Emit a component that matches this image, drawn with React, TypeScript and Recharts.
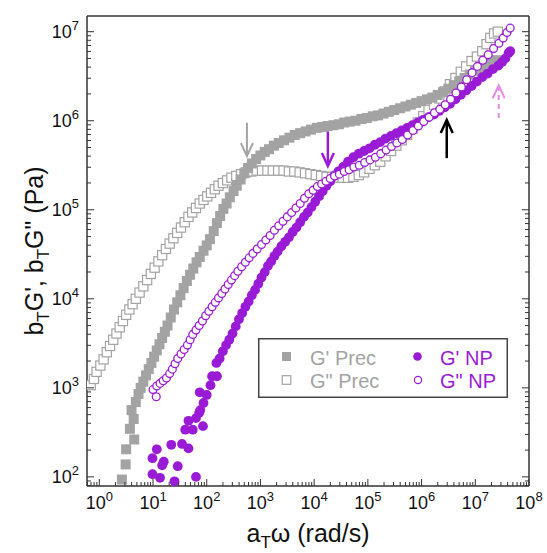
import { ScatterChart, Scatter, XAxis, YAxis, ReferenceLine, Legend } from 'recharts'

// every pair is [log10(aT·ω), log10(modulus)]
const gPrimePrec: [number, number][] = [
  [0.42, 1.97], [0.49, 2.14], [0.5, 2.31], [0.65, 2.42], [0.57, 2.54], [0.64, 2.65], [0.6, 2.75], [0.68, 2.84],
  [0.73, 2.93], [0.77, 3.0], [0.82, 3.07], [0.87, 3.14], [0.92, 3.21], [0.97, 3.28], [1.02, 3.35], [1.07, 3.42],
  [1.12, 3.49], [1.17, 3.56], [1.22, 3.63], [1.27, 3.7], [1.33, 3.79], [1.39, 3.88], [1.45, 3.96], [1.51, 4.04],
  [1.57, 4.12], [1.63, 4.2], [1.69, 4.27], [1.75, 4.34], [1.81, 4.41], [1.87, 4.47], [1.94, 4.54], [2.0, 4.6],
  [2.06, 4.67], [2.13, 4.76], [2.19, 4.85], [2.25, 4.93], [2.31, 5.01], [2.37, 5.07], [2.43, 5.14], [2.5, 5.21],
  [2.56, 5.27], [2.63, 5.34], [2.7, 5.41], [2.77, 5.47], [2.84, 5.52], [2.92, 5.57], [3.0, 5.61], [3.08, 5.65],
  [3.16, 5.68], [3.25, 5.72], [3.34, 5.75], [3.44, 5.78], [3.54, 5.81], [3.64, 5.84], [3.74, 5.86], [3.84, 5.88],
  [3.94, 5.9], [4.05, 5.92], [4.15, 5.93], [4.25, 5.94], [4.36, 5.95], [4.46, 5.96], [4.56, 5.98], [4.66, 5.99],
  [4.77, 6.0], [4.88, 6.02], [4.98, 6.03], [5.09, 6.05], [5.19, 6.06], [5.29, 6.08], [5.39, 6.1], [5.49, 6.12],
  [5.6, 6.14], [5.7, 6.16], [5.8, 6.18], [5.9, 6.2], [6.0, 6.22], [6.1, 6.24], [6.2, 6.26], [6.3, 6.29],
  [6.4, 6.32], [6.5, 6.36], [6.6, 6.4], [6.7, 6.44], [6.8, 6.48], [6.9, 6.52], [7.0, 6.56], [7.1, 6.59],
  [7.2, 6.62], [7.3, 6.65], [7.4, 6.68],
]

const gDoublePrec: [number, number][] = [
  [-0.16, 3.03], [-0.1, 3.1], [-0.05, 3.18], [0.02, 3.25], [0.08, 3.32], [0.14, 3.4], [0.2, 3.47], [0.26, 3.54],
  [0.32, 3.61], [0.38, 3.68], [0.44, 3.75], [0.5, 3.82], [0.56, 3.88], [0.62, 3.94], [0.68, 4.0], [0.75, 4.07],
  [0.82, 4.14], [0.89, 4.21], [0.96, 4.28], [1.03, 4.35], [1.1, 4.42], [1.17, 4.49], [1.24, 4.56], [1.31, 4.62],
  [1.38, 4.68], [1.45, 4.74], [1.52, 4.8], [1.59, 4.86], [1.66, 4.92], [1.73, 4.97], [1.8, 5.02], [1.87, 5.07],
  [1.94, 5.11], [2.01, 5.15], [2.08, 5.19], [2.15, 5.23], [2.22, 5.27], [2.3, 5.3], [2.38, 5.33], [2.46, 5.36],
  [2.55, 5.38], [2.64, 5.4], [2.73, 5.42], [2.83, 5.43], [2.93, 5.44], [3.03, 5.44], [3.13, 5.44], [3.23, 5.44],
  [3.33, 5.44], [3.43, 5.44], [3.53, 5.43], [3.63, 5.43], [3.73, 5.42], [3.83, 5.41], [3.93, 5.4], [4.03, 5.39],
  [4.13, 5.38], [4.23, 5.37], [4.33, 5.37], [4.43, 5.36], [4.53, 5.36], [4.63, 5.36], [4.73, 5.37], [4.83, 5.39],
  [4.93, 5.42], [5.03, 5.46], [5.13, 5.5], [5.23, 5.54], [5.33, 5.6], [5.43, 5.66], [5.53, 5.72], [5.63, 5.78],
  [5.73, 5.84], [5.83, 5.91], [5.93, 5.98], [6.03, 6.05], [6.13, 6.12], [6.23, 6.18], [6.33, 6.25], [6.43, 6.33],
  [6.53, 6.41], [6.63, 6.48], [6.73, 6.55], [6.83, 6.61], [6.93, 6.67], [7.03, 6.72], [7.13, 6.78], [7.21, 6.86],
  [7.28, 6.93], [7.35, 6.98], [7.42, 7.0],
]

const gPrimeNP: [number, number][] = [
  [0.99, 2.03], [1.13, 1.99], [1.4, 1.95], [1.8, 2.0], [0.99, 2.21], [1.07, 2.31], [1.17, 2.13], [1.2, 2.17],
  [1.34, 2.36], [1.46, 2.12], [1.54, 2.37], [1.66, 2.32], [1.6, 2.53], [1.74, 2.53], [1.66, 2.63], [1.8, 2.66],
  [1.93, 2.57], [1.86, 2.72], [1.88, 2.75], [1.94, 2.83], [1.87, 2.95], [2.0, 2.92], [2.07, 3.03], [2.1, 3.13],
  [2.19, 3.13], [2.18, 3.28], [2.24, 3.33], [2.3, 3.41], [2.36, 3.48], [2.42, 3.54], [2.48, 3.61], [2.54, 3.69],
  [2.6, 3.77], [2.66, 3.84], [2.72, 3.91], [2.78, 3.97], [2.84, 4.04], [2.9, 4.1], [2.96, 4.17], [3.02, 4.24],
  [3.08, 4.3], [3.14, 4.37], [3.2, 4.42], [3.26, 4.48], [3.32, 4.53], [3.39, 4.59], [3.46, 4.64], [3.53, 4.69],
  [3.6, 4.75], [3.67, 4.8], [3.74, 4.86], [3.81, 4.92], [3.88, 4.97], [3.95, 5.03], [4.02, 5.09], [4.09, 5.15],
  [4.16, 5.21], [4.23, 5.27], [4.3, 5.32], [4.37, 5.38], [4.45, 5.43], [4.54, 5.48], [4.63, 5.54], [4.73, 5.59],
  [4.83, 5.63], [4.93, 5.66], [5.03, 5.69], [5.13, 5.73], [5.23, 5.76], [5.33, 5.8], [5.43, 5.83], [5.53, 5.86],
  [5.63, 5.89], [5.73, 5.92], [5.83, 5.95], [5.93, 5.98], [6.03, 6.01], [6.13, 6.04], [6.23, 6.07], [6.33, 6.11],
  [6.43, 6.15], [6.53, 6.19], [6.63, 6.24], [6.73, 6.29], [6.83, 6.34], [6.93, 6.39], [7.03, 6.44], [7.13, 6.49],
  [7.23, 6.53], [7.33, 6.58], [7.43, 6.62], [7.5, 6.66], [7.56, 6.7], [7.62, 6.76], [7.65, 6.78],
]

const gDoubleNP: [number, number][] = [
  [1.0, 2.98], [1.06, 2.9], [1.07, 3.02], [1.13, 3.05], [1.19, 3.08], [1.25, 3.11], [1.31, 3.16], [1.36, 3.21],
  [1.41, 3.27], [1.46, 3.33], [1.52, 3.38], [1.58, 3.43], [1.64, 3.48], [1.69, 3.54], [1.74, 3.6], [1.8, 3.65],
  [1.86, 3.7], [1.92, 3.75], [1.98, 3.81], [2.04, 3.86], [2.1, 3.91], [2.16, 3.96], [2.22, 4.01], [2.28, 4.06],
  [2.34, 4.11], [2.4, 4.16], [2.46, 4.21], [2.52, 4.26], [2.58, 4.31], [2.65, 4.36], [2.72, 4.41], [2.79, 4.46],
  [2.86, 4.51], [2.94, 4.56], [3.02, 4.61], [3.1, 4.66], [3.18, 4.71], [3.26, 4.77], [3.34, 4.82], [3.42, 4.87],
  [3.5, 4.92], [3.58, 4.97], [3.66, 5.02], [3.74, 5.07], [3.82, 5.13], [3.9, 5.18], [3.98, 5.22], [4.06, 5.26],
  [4.14, 5.29], [4.22, 5.32], [4.3, 5.35], [4.38, 5.38], [4.47, 5.4], [4.56, 5.43], [4.65, 5.45], [4.74, 5.48],
  [4.84, 5.5], [4.94, 5.53], [5.04, 5.56], [5.14, 5.59], [5.24, 5.63], [5.34, 5.67], [5.44, 5.71], [5.54, 5.75],
  [5.64, 5.79], [5.74, 5.84], [5.84, 5.89], [5.94, 5.94], [6.04, 5.99], [6.14, 6.04], [6.24, 6.09], [6.34, 6.13],
  [6.44, 6.18], [6.54, 6.24], [6.64, 6.31], [6.74, 6.38], [6.84, 6.46], [6.94, 6.54], [7.04, 6.61], [7.14, 6.68],
  [7.24, 6.74], [7.34, 6.81], [7.44, 6.87], [7.52, 6.93], [7.59, 6.99], [7.65, 7.04],
]

// annotation arrows: x position, start and tip of the shaft (data units)
const arrowMarks = [
  { x: 560, from: 9.5e5, to: 4.0e5 },
  { x: 1.8e4, from: 7.6e5, to: 3.1e5 },
  { x: 2.94e6, from: 3.8e5, to: 1.02e6 },
  { x: 2.73e7, from: 1.07e6, to: 2.5e6 },
]

const xDecades = [1, 10, 100, 1e3, 1e4, 1e5, 1e6, 1e7, 1e8]
const yDecades = [1e2, 1e3, 1e4, 1e5, 1e6, 1e7]
const xDomain: [number, number] = [0.59, 1e8]
const yDomain: [number, number] = [79, 1.5e7]

const GRAY = '#a3a3a3'
const PURPLE = '#9a1bd6'
const PINK = '#e58ae6'
const AXIS = '#333'
const FONT = '"Liberation Sans", Arial, Helvetica, sans-serif'

const toPoints = (pts: [number, number][]) => pts.map(([lx, ly]) => ({ x: 10 ** lx, y: 10 ** ly }))

function withMinor(decades: number[], [lo, hi]: [number, number]) {
  const out: number[] = []
  for (const d of [decades[0] / 10, ...decades]) {
    for (const m of [1, 2, 3, 4, 5, 6, 7, 8, 9]) {
      const v = d * m
      if (v >= lo && v <= hi) out.push(v)
    }
  }
  return out
}

const xTicks = withMinor(xDecades, xDomain)
const yTicks = withMinor(yDecades, yDomain)

const isDecade = (v: number) => {
  const e = Math.log10(v)
  return Math.abs(e - Math.round(e)) < 1e-6
}

function Pow({ x, y, v, anchor }: { x: number; y: number; v: number; anchor: 'middle' | 'end' }) {
  return (
    <text x={x} y={y} textAnchor={anchor} fontSize={18} fill="#111" stroke="none" fontFamily={FONT}>
      10
      <tspan fontSize={13} dy={-8}>
        {Math.round(Math.log10(v))}
      </tspan>
    </text>
  )
}

function makeTick(side: 'bottom' | 'top' | 'left' | 'right') {
  // eslint-disable-next-line @typescript-eslint/no-explicit-any
  return (p: any) => {
    const v = p.payload.value
    const major = isDecade(v)
    const len = major ? 7 : 4
    const { x, y } = p
    let line
    if (side === 'bottom') line = <line x1={x} x2={x} y1={y} y2={y - len} />
    else if (side === 'top') line = <line x1={x} x2={x} y1={y} y2={y + len} />
    else if (side === 'left') line = <line x1={x} x2={x + len} y1={y} y2={y} />
    else line = <line x1={x} x2={x - len} y1={y} y2={y} />
    return (
      <g>
        <g stroke={AXIS} strokeWidth={1}>{line}</g>
        {major && side === 'bottom' && <Pow x={x} y={y + 23} v={v} anchor="middle" />}
        {major && side === 'left' && <Pow x={x - 8} y={y + 6} v={v} anchor="end" />}
      </g>
    )
  }
}

// eslint-disable-next-line @typescript-eslint/no-explicit-any
function XTitle({ viewBox }: any) {
  const cx = viewBox.x + viewBox.width / 2
  return (
    <text x={cx} y={viewBox.y + 56} textAnchor="middle" fontSize={25} fill="#111" fontFamily={FONT}>
      a
      <tspan fontSize={17} dy={6}>T</tspan>
      <tspan dy={-6}>ω (rad/s)</tspan>
    </text>
  )
}

// eslint-disable-next-line @typescript-eslint/no-explicit-any
function YTitle({ viewBox }: any) {
  const cx = 43
  const cy = viewBox.y + viewBox.height / 2
  return (
    <text
      x={cx}
      y={cy}
      transform={`rotate(-90 ${cx} ${cy})`}
      textAnchor="middle"
      fontSize={25}
      fill="#111"
      fontFamily={FONT}
    >
      b
      <tspan fontSize={17} dy={6}>T</tspan>
      <tspan dy={-6}>G', b</tspan>
      <tspan fontSize={17} dy={6}>T</tspan>
      <tspan dy={-6}>G" (Pa)</tspan>
    </text>
  )
}

// eslint-disable-next-line @typescript-eslint/no-explicit-any
const FilledSquare = (p: any) => <rect x={p.cx - 5} y={p.cy - 5} width={10} height={10} fill={GRAY} />
// eslint-disable-next-line @typescript-eslint/no-explicit-any
const OpenSquare = (p: any) => (
  <rect x={p.cx - 4.6} y={p.cy - 4.6} width={9.2} height={9.2} fill="#fff" stroke={GRAY} strokeWidth={1.2} />
)
// eslint-disable-next-line @typescript-eslint/no-explicit-any
const FilledCircle = (p: any) => <circle cx={p.cx} cy={p.cy} r={4.9} fill={PURPLE} />
// eslint-disable-next-line @typescript-eslint/no-explicit-any
const OpenCircle = (p: any) => <circle cx={p.cx} cy={p.cy} r={3.9} fill="#fff" stroke={PURPLE} strokeWidth={1.3} />

function makeArrow(color: string, width: number, dashed: boolean) {
  // eslint-disable-next-line @typescript-eslint/no-explicit-any
  return (p: any) => {
    const { x1, y1, x2, y2 } = p
    const dir = y2 < y1 ? 1 : -1
    return (
      <g stroke={color} strokeWidth={width} fill="none">
        <line x1={x1} y1={y1} x2={x2} y2={y2 + dir * 2} strokeDasharray={dashed ? '5 4' : undefined} />
        <polyline points={`${x2 - 6},${y2 + dir * 13} ${x2},${y2} ${x2 + 6},${y2 + dir * 13}`} />
      </g>
    )
  }
}

const arrowStyles = [
  { color: GRAY, width: 2, dashed: false },
  { color: PURPLE, width: 2.5, dashed: false },
  { color: '#000', width: 2.5, dashed: false },
  { color: PINK, width: 2, dashed: true },
]

function LegendBox() {
  const rows = [18.5, 42]
  return (
    <svg width={250} height={60} style={{ display: 'block' }}>
      <rect x={0.75} y={0.75} width={248.5} height={58.5} fill="#fff" stroke="#444" strokeWidth={1.5} />
      <rect x={24} y={rows[0] - 4.5} width={9} height={9} fill={GRAY} />
      <rect x={24.2} y={rows[1] - 4.3} width={8.6} height={8.6} fill="#fff" stroke={GRAY} strokeWidth={1.2} />
      <circle cx={159.5} cy={rows[0]} r={4.3} fill={PURPLE} />
      <circle cx={160} cy={rows[1]} r={3.6} fill="#fff" stroke={PURPLE} strokeWidth={1.2} />
      <g fontFamily={FONT} fontSize={20}>
        <text x={52} y={rows[0] + 8} fill={GRAY}>G' Prec</text>
        <text x={52} y={rows[1] + 8} fill={GRAY}>G" Prec</text>
        <text x={182} y={rows[0] + 8} fill={PURPLE}>G' NP</text>
        <text x={182} y={rows[1] + 8} fill={PURPLE}>G" NP</text>
      </g>
    </svg>
  )
}

export default function App() {
  return (
    <div style={{ position: 'absolute', left: 0, top: 0, background: '#fff' }}>
      <ScatterChart width={547} height={553} margin={{ top: 0, right: 0, bottom: 0, left: 0 }}>
        <XAxis
          xAxisId="b"
          dataKey="x"
          type="number"
          scale="log"
          domain={xDomain}
          allowDataOverflow
          ticks={xTicks}
          interval={0}
          height={67}
          tickSize={0}
          tickMargin={0}
          tickLine={false}
          tick={makeTick('bottom')}
          axisLine={{ stroke: AXIS, strokeWidth: 1.5 }}
          label={<XTitle />}
        />
        <XAxis
          xAxisId="t"
          orientation="top"
          type="number"
          scale="log"
          domain={xDomain}
          allowDataOverflow
          ticks={xTicks}
          interval={0}
          height={16}
          tickSize={0}
          tickMargin={0}
          tickLine={false}
          tick={makeTick('top')}
          axisLine={{ stroke: AXIS, strokeWidth: 1.5 }}
        />
        <YAxis
          yAxisId="l"
          dataKey="y"
          type="number"
          scale="log"
          domain={yDomain}
          allowDataOverflow
          ticks={yTicks}
          interval={0}
          width={87}
          tickSize={0}
          tickMargin={0}
          tickLine={false}
          tick={makeTick('left')}
          axisLine={{ stroke: AXIS, strokeWidth: 1.5 }}
          label={<YTitle />}
        />
        <YAxis
          yAxisId="r"
          orientation="right"
          type="number"
          scale="log"
          domain={yDomain}
          allowDataOverflow
          ticks={yTicks}
          interval={0}
          width={18}
          tickSize={0}
          tickMargin={0}
          tickLine={false}
          tick={makeTick('right')}
          axisLine={{ stroke: AXIS, strokeWidth: 1.5 }}
        />
        <Scatter name={'G" Prec'} data={toPoints(gDoublePrec)} xAxisId="b" yAxisId="l" shape={OpenSquare} isAnimationActive={false} />
        <Scatter name="G' Prec" data={toPoints(gPrimePrec)} xAxisId="b" yAxisId="l" shape={FilledSquare} isAnimationActive={false} />
        <Scatter name="G' NP" data={toPoints(gPrimeNP)} xAxisId="b" yAxisId="l" shape={FilledCircle} isAnimationActive={false} />
        <Scatter name={'G" NP'} data={toPoints(gDoubleNP)} xAxisId="b" yAxisId="l" shape={OpenCircle} isAnimationActive={false} />
        {arrowMarks.map((a, i) => (
          <ReferenceLine
            key={i}
            xAxisId="b"
            yAxisId="l"
            segment={[{ x: a.x, y: a.from }, { x: a.x, y: a.to }]}
            shape={makeArrow(arrowStyles[i].color, arrowStyles[i].width, arrowStyles[i].dashed)}
          />
        ))}
        <Legend
          layout="vertical"
          align="center"
          verticalAlign="middle"
          content={() => <LegendBox />}
          wrapperStyle={{ left: 258, top: 338, width: 250, height: 60 }}
        />
      </ScatterChart>
    </div>
  )
}
